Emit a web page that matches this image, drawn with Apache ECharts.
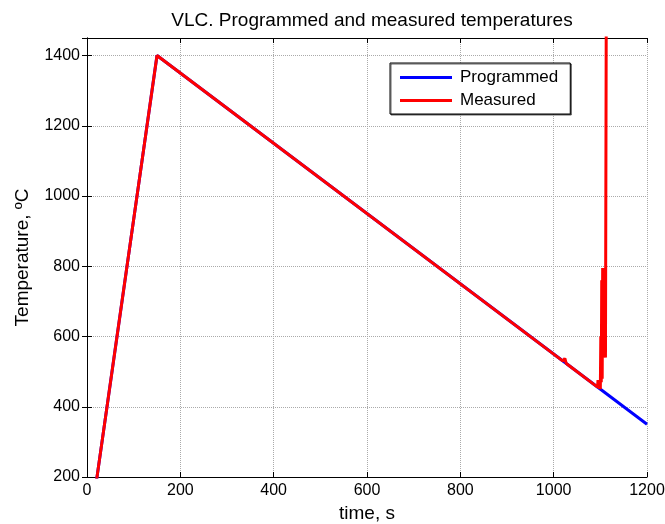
<!DOCTYPE html>
<html>
<head>
<meta charset="utf-8">
<script src="https://cdn.jsdelivr.net/npm/echarts@6/dist/echarts.min.js"></script>
<style>
html,body{margin:0;padding:0;background:#fff;}
#c{width:665px;height:524px;}
</style>
</head>
<body>
<div id="c"></div>
<script>
// Data
var xTicks = [0, 200, 400, 600, 800, 1000, 1200];
var yTicks = [200, 400, 600, 800, 1000, 1200, 1400];

var progTime = [0, 150, 1200];
var progTemp = [0, 1400, 350];

var measTime = [0, 150, 1020, 1024, 1027, 1094, 1095, 1096, 1098, 1099, 1100, 1101, 1102, 1103, 1104, 1105, 1106, 1107, 1108, 1109, 1110, 1111, 1113];
var measTemp = [0, 1400, 530, 538, 523, 456, 476, 458, 452, 470, 450, 600, 470, 760, 480, 795, 560, 780, 540, 760, 560, 540, 1700];

function pairs(xs, ys) { return xs.map(function (x, i) { return [x, ys[i]]; }); }

var FONT = '"Liberation Sans", Arial, sans-serif';
var chart = echarts.init(document.getElementById('c'), null, {renderer: 'canvas'});

var axisCommon = {
  axisLine: {show: true, lineStyle: {color: '#000', width: 1}},
  axisTick: {show: true, inside: true, length: 5, lineStyle: {color: '#000'}}
};

chart.setOption({
  animation: false,
  backgroundColor: '#fff',
  title: {
    text: 'VLC. Programmed and measured temperatures',
    left: 367, top: 6, textAlign: 'center',
    textStyle: {fontFamily: FONT, fontSize: 19, fontWeight: 'normal', color: '#000'}
  },
  legend: {
    orient: 'vertical',
    left: 390, top: 63,
    padding: [6, 12, 5, 10],
    itemGap: 6,
    itemWidth: 52, itemHeight: 3,
    icon: 'rect',
    backgroundColor: '#fff',
    borderColor: '#000', borderWidth: 1,
    shadowColor: 'rgba(0,0,0,0.6)', shadowOffsetX: 1, shadowOffsetY: 1, shadowBlur: 0,
    textStyle: {fontFamily: FONT, fontSize: 17, color: '#000', padding: [0, 0, 0, 3]},
    data: ['Programmed', 'Measured']
  },
  grid: {left: 87, right: 18, top: 38, bottom: 47, containLabel: false, outerBoundsMode: 'none'},
  xAxis: [
    Object.assign({}, axisCommon, {
      type: 'value', min: xTicks[0], max: xTicks[xTicks.length - 1], interval: 200,
      name: 'time, s', nameLocation: 'middle', nameGap: 27,
      nameTextStyle: {fontFamily: FONT, fontSize: 19, color: '#000'},
      axisLabel: {fontFamily: FONT, fontSize: 16, color: '#000', margin: 6,
        formatter: function (v) { return String(v); }},
      splitLine: {show: true, lineStyle: {color: '#aaa', type: 'dotted', width: 1}}
    }),
    Object.assign({}, axisCommon, {
      type: 'value', position: 'top', min: xTicks[0], max: xTicks[xTicks.length - 1], interval: 200,
      axisLabel: {show: false}, splitLine: {show: false}
    })
  ],
  yAxis: [
    Object.assign({}, axisCommon, {
      type: 'value', min: 200, max: 1450, interval: 200,
      name: 'Temperature, ºC', nameLocation: 'middle', nameGap: 55,
      nameTextStyle: {fontFamily: FONT, fontSize: 19, color: '#000'},
      axisLabel: {
        fontFamily: FONT, fontSize: 16, color: '#000', margin: 7,
        formatter: function (v) { return yTicks.indexOf(v) >= 0 ? String(v) : ''; }
      },
      splitLine: {show: true, lineStyle: {color: '#aaa', type: 'dotted', width: 1}}
    }),
    Object.assign({}, axisCommon, {
      type: 'value', position: 'right', min: 200, max: 1450, interval: 200,
      axisLabel: {show: false}, splitLine: {show: false}
    })
  ],
  series: [
    {
      name: 'Programmed', type: 'line', data: pairs(progTime, progTemp),
      showSymbol: false, symbol: 'none', clip: true,
      lineStyle: {color: '#0000ff', width: 3}, itemStyle: {color: '#0000ff'}, z: 2
    },
    {
      name: 'Measured', type: 'line', data: pairs(measTime, measTemp),
      showSymbol: false, symbol: 'none', clip: true,
      lineStyle: {color: '#ff0000', width: 3}, itemStyle: {color: '#ff0000'}, z: 3
    }
  ]
});
</script>
</body>
</html>
